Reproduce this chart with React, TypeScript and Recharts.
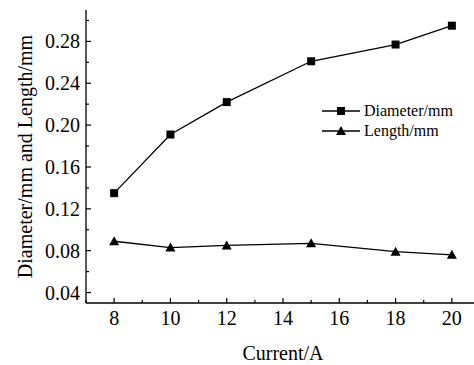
import React from 'react';
import { LineChart, Line, XAxis, YAxis } from 'recharts';

const currents = [8, 10, 12, 15, 18, 20];
const diameter = [0.135, 0.191, 0.222, 0.261, 0.277, 0.295];
const lengthVals = [0.089, 0.083, 0.085, 0.087, 0.079, 0.076];
const xTicks = [7, 8, 9, 10, 11, 12, 13, 14, 15, 16, 17, 18, 19, 20, 21];
const xMajor = [8, 10, 12, 14, 16, 18, 20];
const yTicks = [0.04, 0.06, 0.08, 0.1, 0.12, 0.14, 0.16, 0.18, 0.2, 0.22, 0.24, 0.26, 0.28, 0.3];
const seriesNames = ['Diameter/mm', 'Length/mm'];
const xTitle = 'Current/A';
const yTitle = 'Diameter/mm and Length/mm';

const data = currents.map((c, i) => ({ current: c, diameter: diameter[i], length: lengthVals[i] }));

const FONT = '"Liberation Serif", "Times New Roman", serif';
const INK = '#000';

const isYMajor = (v: number) => Math.round(v * 100) % 4 === 0;

const YTick = (props: any) => {
  const { x, y, payload } = props;
  const v = payload.value as number;
  const major = isYMajor(v);
  return (
    <g>
      <line x1={x} x2={x + (major ? 5 : 3)} y1={y} y2={y} stroke={INK} strokeWidth={1.2} />
      {major && (
        <text x={x - 6} y={y} dy="0.35em" textAnchor="end" fontFamily={FONT} fontSize={20} fill={INK}>
          {v.toFixed(2)}
        </text>
      )}
    </g>
  );
};

const XTick = (props: any) => {
  const { x, y, payload } = props;
  const v = payload.value as number;
  const major = xMajor.includes(v);
  return (
    <g>
      <line x1={x} x2={x} y1={y} y2={y - (major ? 5 : 3)} stroke={INK} strokeWidth={1.2} />
      {major && (
        <text x={x} y={y + 22} textAnchor="middle" fontFamily={FONT} fontSize={20} fill={INK}>
          {v}
        </text>
      )}
    </g>
  );
};

const TopTick = (props: any) => {
  const { x, y, payload } = props;
  const v = payload.value as number;
  const major = xMajor.includes(v);
  return <line x1={x} x2={x} y1={y} y2={y + (major ? 5 : 3)} stroke={INK} strokeWidth={1.2} />;
};

const SquareDot = (props: any) => {
  const { cx, cy, index } = props;
  if (cx == null || cy == null) return <g key={`s${index}`} />;
  return <rect key={`s${index}`} x={cx - 4} y={cy - 4} width={8} height={8} fill={INK} />;
};

const TriDot = (props: any) => {
  const { cx, cy, index } = props;
  if (cx == null || cy == null) return <g key={`t${index}`} />;
  return <path key={`t${index}`} d={`M${cx},${cy - 5} L${cx + 5},${cy + 4} L${cx - 5},${cy + 4} Z`} fill={INK} />;
};

const LegendBox = () => (
  <div style={{ position: 'absolute', left: 322, top: 101, fontFamily: FONT, fontSize: 16, color: INK, lineHeight: '20px' }}>
    {seriesNames.map((name, i) => (
      <div key={name} style={{ display: 'flex', alignItems: 'center', height: 20 }}>
        <svg width={38} height={12} style={{ display: 'block' }}>
          <line x1={0} x2={38} y1={6} y2={6} stroke={INK} strokeWidth={1.3} />
          {i === 0 ? (
            <rect x={15} y={2} width={8} height={8} fill={INK} />
          ) : (
            <path d="M19,1 L24,10 L14,10 Z" fill={INK} />
          )}
        </svg>
        <span style={{ marginLeft: 4 }}>{name}</span>
      </div>
    ))}
  </div>
);

export default function App() {
  return (
    <div style={{ position: 'absolute', left: 0, top: 0, width: 474, height: 365, overflow: 'hidden', background: '#fff' }}>
      <LineChart width={490} height={365} data={data} margin={{ top: 10, right: 10, left: 0, bottom: 0 }}>
        <XAxis
          dataKey="current"
          type="number"
          domain={[7, 21]}
          ticks={xTicks}
          interval={0}
          allowDataOverflow
          height={62}
          tickSize={0}
          tickMargin={0}
          tickLine={false}
          tick={<XTick />}
          axisLine={{ stroke: INK, strokeWidth: 1.3 }}
          label={{
            content: (p: any) => {
              const vb = p.viewBox;
              return (
                <text x={vb.x + vb.width / 2} y={vb.y + 57} textAnchor="middle" fontFamily={FONT} fontSize={20} fill={INK}>
                  {xTitle}
                </text>
              );
            },
          }}
        />
        <XAxis
          xAxisId="top"
          orientation="top"
          dataKey="current"
          type="number"
          domain={[7, 21]}
          ticks={xTicks}
          interval={0}
          allowDataOverflow
          height={0}
          tickSize={0}
          tickMargin={0}
          tickLine={false}
          tick={<TopTick />}
          axisLine={{ stroke: INK, strokeWidth: 1.3 }}
        />
        <YAxis
          type="number"
          domain={[0.03, 0.31]}
          ticks={yTicks}
          interval={0}
          allowDataOverflow
          width={86}
          tickSize={0}
          tickMargin={0}
          tickLine={false}
          tick={<YTick />}
          axisLine={{ stroke: INK, strokeWidth: 1.3 }}
          label={{
            content: (p: any) => {
              const vb = p.viewBox;
              const cx = vb.x + 32;
              const cy = vb.y + vb.height / 2;
              return (
                <text x={cx} y={cy} transform={`rotate(-90, ${cx}, ${cy})`} textAnchor="middle" fontFamily={FONT} fontSize={20} fill={INK}>
                  {yTitle}
                </text>
              );
            },
          }}
        />
        <Line dataKey="diameter" name={seriesNames[0]} stroke={INK} strokeWidth={1.3} dot={SquareDot} isAnimationActive={false} />
        <Line dataKey="length" name={seriesNames[1]} stroke={INK} strokeWidth={1.3} dot={TriDot} isAnimationActive={false} />
      </LineChart>
      <LegendBox />
    </div>
  );
}
